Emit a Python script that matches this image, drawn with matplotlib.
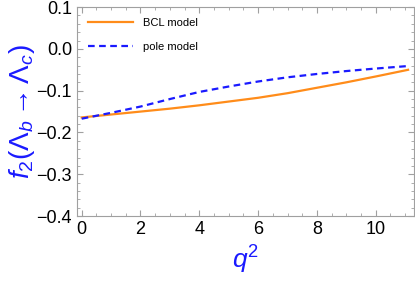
import matplotlib
matplotlib.use("Agg")
import matplotlib.pyplot as plt
from matplotlib.ticker import MultipleLocator

plt.rcParams["font.family"] = ["Liberation Sans", "DejaVu Sans"]
plt.rcParams["mathtext.fontset"] = "custom"
plt.rcParams["mathtext.it"] = "Liberation Sans:italic"
plt.rcParams["mathtext.rm"] = "Liberation Sans"

# values
q2 = [0, 1, 2, 3, 4, 5, 6, 7, 8, 9, 10, 11.1]
bcl = [-0.164, -0.157, -0.150, -0.143, -0.135, -0.126, -0.117, -0.106, -0.093, -0.080, -0.066, -0.050]
pole = [-0.167, -0.153, -0.138, -0.120, -0.103, -0.090, -0.078, -0.068, -0.060, -0.053, -0.047, -0.041]

fig = plt.figure(figsize=(4.15, 2.85), dpi=100)
ax = fig.add_axes([0.1855, 0.242, 0.812, 0.733])

ax.plot(q2, bcl, color="#ff8c1a", lw=1.6, label="BCL model")
ax.plot(q2, pole, color="#1a1aff", lw=1.6, ls=(0, (3, 2)), label="pole model")

ax.set_xlim(-0.16, 11.3)
ax.set_ylim(-0.4, 0.1)
ax.xaxis.set_major_locator(MultipleLocator(2))
ax.xaxis.set_minor_locator(MultipleLocator(0.5))
ax.yaxis.set_major_locator(MultipleLocator(0.1))
ax.yaxis.set_minor_locator(MultipleLocator(0.02))
ax.yaxis.set_major_formatter(lambda v, p: f"{v:.1f}".replace("-", "\u2212"))

for s in ax.spines.values():
    s.set_color("#a0a0a0")
ax.tick_params(which="both", direction="in", top=True, right=True, color="#a0a0a0",
               labelsize=13, labelcolor="black")
ax.tick_params(which="major", length=4)
ax.tick_params(which="minor", length=2.5)

ax.set_xlabel(r"$q^2$", color="#1a1aff", fontsize=19, labelpad=4)
ax.set_ylabel(r"$f_2(\Lambda_b \rightarrow \Lambda_c)$", color="#1a1aff", fontsize=20, labelpad=0)

ax.legend(loc="upper left", frameon=False, fontsize=8, handlelength=4.0,
          handletextpad=0.9, labelspacing=1.25, borderaxespad=0.6)

fig.savefig("out.png", dpi=100)
